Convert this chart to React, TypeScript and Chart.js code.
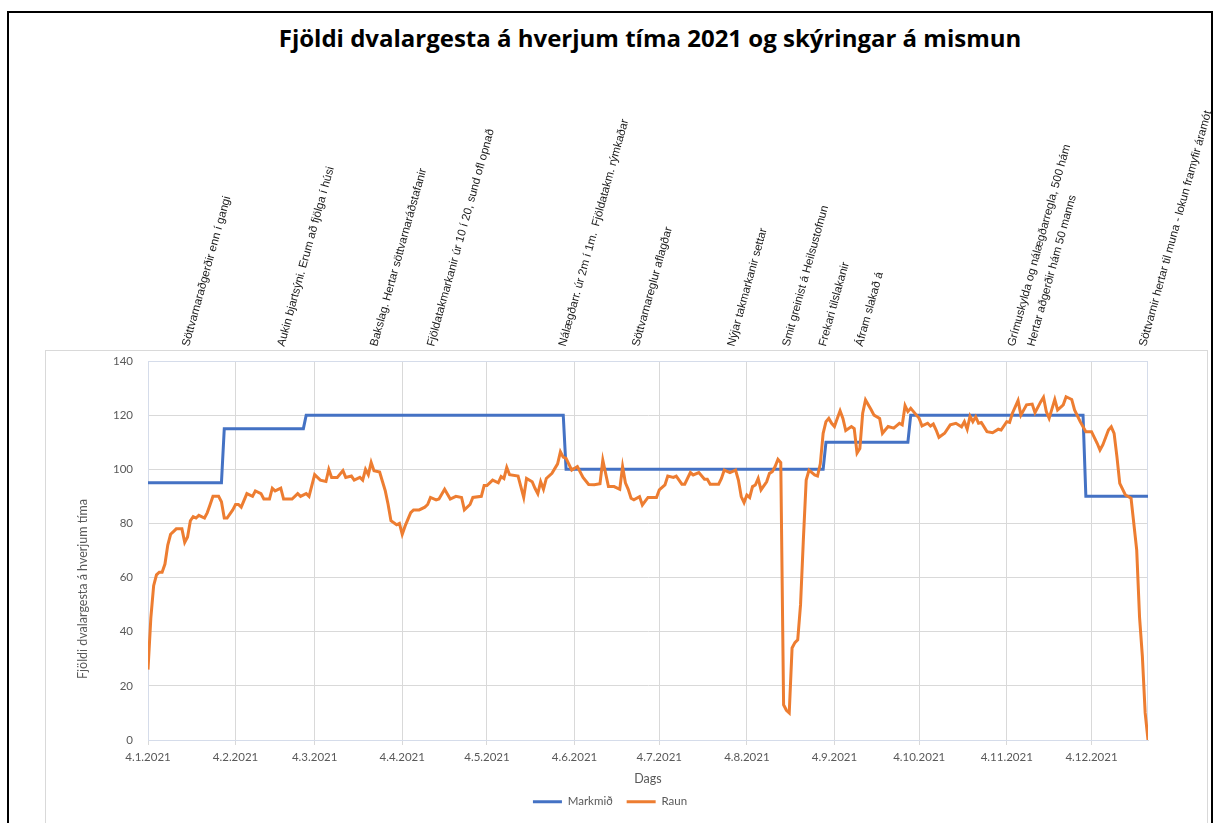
import React, { useEffect, useRef } from 'react';
import { Chart, registerables } from 'chart.js';

Chart.register(...registerables);

// ---- Data ----
const chartTitle = 'Fjöldi dvalargesta á hverjum tíma 2021 og skýringar á mismun';
const yAxisTitle = 'Fjöldi dvalargesta á hverjum tíma';
const xAxisTitle = 'Dags';
const seriesNames = ['Markmið', 'Raun'];

// x axis: day index counted from 4.1.2021
const monthTickDays = [0, 31, 59, 90, 120, 151, 181, 212, 243, 273, 304, 334];
const monthTickLabels = [
  '4.1.2021', '4.2.2021', '4.3.2021', '4.4.2021', '4.5.2021', '4.6.2021',
  '4.7.2021', '4.8.2021', '4.9.2021', '4.10.2021', '4.11.2021', '4.12.2021',
];
const lastDay = 354;

// Markmið (target)
const targetDays = [0, 26, 27, 55, 56, 147, 148, 239, 240, 269, 270, 331, 332, 354];
const targetValues = [95, 95, 115, 115, 120, 120, 100, 100, 110, 110, 120, 120, 90, 90];

// Raun (actual)
const actualDays = [
  0, 1, 2, 3, 4, 5, 6, 7, 8, 9, 10, 12, 13, 14, 15, 16, 17, 18, 20, 21,
  22, 23, 24, 25, 26, 27, 28, 30, 31, 32, 33, 35, 37, 38, 40, 41, 43, 44, 45, 47,
  48, 50, 51, 53, 54, 56, 57, 59, 61, 63, 64, 65, 67, 69, 70, 72, 73, 75, 76, 77,
  78, 79, 80, 82, 83, 84, 85, 86, 88, 89, 90, 91, 93, 94, 96, 98, 99, 100, 102, 103,
  105, 107, 109, 111, 112, 114, 115, 118, 119, 120, 122, 124, 125, 126, 127, 128, 131, 133, 134, 136,
  137, 138, 139, 140, 141, 143, 145, 146, 147, 148, 150, 152, 154, 156, 158, 160, 161, 163, 165, 167,
  168, 169, 170, 171, 172, 174, 175, 177, 180, 181, 183, 184, 186, 187, 189, 190, 192, 193, 195, 197,
  198, 199, 202, 203, 204, 206, 208, 209, 210, 211, 212, 213, 214, 215, 216, 217, 219, 220, 221, 222,
  223, 224, 225, 226, 227, 228, 229, 230, 231, 232, 233, 234, 236, 237, 238, 239, 240, 241, 242, 243,
  244, 245, 246, 247, 249, 250, 251, 252, 253, 254, 256, 257, 259, 260, 262, 264, 266, 267, 268, 269,
  270, 271, 273, 274, 276, 277, 278, 279, 280, 282, 284, 286, 288, 289, 290, 291, 292, 293, 294, 295,
  297, 299, 301, 302, 304, 305, 306, 308, 309, 311, 313, 314, 316, 317, 318, 319, 321, 322, 324, 325,
  327, 328, 330, 332, 334, 336, 337, 338, 340, 341, 342, 343, 344, 346, 348, 350, 351, 352, 353, 354,
];
const actualValues = [
  26, 45, 57, 61, 62, 62, 65, 72, 76, 77, 78, 78, 73, 75, 81, 82.5, 82, 83, 82, 84,
  87, 90, 90, 90, 88, 82, 82, 85, 87, 87, 86, 91, 90, 92, 91, 89, 89, 93, 92, 93,
  89, 89, 89, 91, 90, 91, 90, 98, 96, 95.5, 100, 97, 97, 99.5, 97, 97.5, 96, 97, 96, 100,
  98, 102.5, 99.5, 99, 95.5, 92, 87, 81, 79.5, 80, 76, 79, 84, 85, 85, 86, 87, 89.6, 88.7, 89,
  92.6, 89, 90, 89.6, 85, 87, 89.6, 90, 94, 94, 96, 95, 97.3, 96.6, 100.7, 98, 97.5, 89.6, 96.6, 95.4,
  93, 91, 95.4, 92.6, 96.6, 98.5, 102, 106.5, 104.5, 104, 99.7, 101, 97, 94.4, 94.3, 94.7, 103.4, 93.6, 93.6, 92.6,
  101, 95, 92.6, 89.3, 88.7, 89.9, 86.8, 89.6, 89.6, 92.4, 94.2, 97.5, 97, 97.5, 94.5, 94.5, 98.8, 97.9, 98.8, 96.3,
  96.3, 94.5, 94.5, 96.6, 99.7, 98.8, 99.7, 96, 89.9, 87.7, 90.5, 89.6, 93.6, 94.2, 96.6, 92.4, 95.4, 98.5, 99.1, 101,
  103.7, 102.5, 13, 11, 10, 34, 36, 37, 50, 74, 96, 99.7, 97.9, 97.5, 102, 113.3, 117.6, 118.8, 117, 115.8,
  118.8, 121.6, 118.8, 114.3, 115.8, 115, 106, 107.7, 120.7, 125.6, 122, 120, 118.8, 113.3, 115.8, 115.2, 117, 116.4, 123.5, 121.3,
  122.5, 121.3, 118.8, 116, 117, 116, 116.7, 114.5, 111.8, 113.3, 116.4, 117, 115.7, 117.6, 114.8, 119.6, 117.6, 119.4, 117, 117.3,
  113.9, 113.5, 114.8, 114.5, 117.6, 117.3, 120.7, 125.4, 120, 123.8, 124.1, 120.9, 124.9, 126.6, 121.3, 118.8, 125.8, 121.9, 123.8, 126.8,
  125.8, 121.9, 117.6, 113.9, 113.9, 109.6, 107.1, 109, 114.5, 115.7, 113.3, 104.7, 94.8, 90.5, 89.3, 70.2, 45.5, 31, 10, 0,
];

// Annotations above the chart
const noteTexts = [
  'Söttvarnaraðgerðir enn í gangi',
  'Aukin bjartsýni. Erum að fjölga í húsi',
  'Bakslag. Hertar söttvarnaráðstafanir',
  'Fjöldatakmarkanir úr 10 í 20, sund ofl opnað',
  'Nálægðarr. úr 2m í 1m.  Fjöldatakm. rýmkaðar',
  'Söttvarnareglur aflagðar',
  'Nýjar takmarkanir settar',
  'Smit greinist á Heilsustofnun',
  'Frekari tilslakanir',
  'Áfram slakað á',
  'Grímuskylda og nálægðarregla, 500 hám',
  'Hertar aðgerðir hám 50 manns',
  'Söttvarnir hertar til muna - lokun framyfir áramót',
];
const noteDays = [14.5, 48.2, 81.1, 101.2, 147.8, 173.8, 207.5, 227, 239.9, 252.9, 306.7, 313.7, 353.3];

const yTickValues = [0, 20, 40, 60, 80, 100, 120, 140];

const BLUE = '#4472C4';
const ORANGE = '#ED7D31';
const GRAY_TEXT = '#595959';
const FONT = 'Lato, "Open Sans", sans-serif';

const extrasPlugin = {
  id: 'extras',
  beforeDatasetsDraw(chart: any) {
    const { ctx, chartArea } = chart;
    ctx.save();
    ctx.strokeStyle = '#d5dcea';
    ctx.lineWidth = 1;
    ctx.strokeRect(chartArea.left + 0.5, chartArea.top + 0.5, chartArea.right - chartArea.left - 1, chartArea.bottom - chartArea.top);
    ctx.restore();
  },
  afterDraw(chart: any) {
    const { ctx, chartArea } = chart;
    const xs = chart.scales.x;
    ctx.save();
    // annotations
    ctx.font = '11.5px "Liberation Sans", Arial, sans-serif';
    ctx.fillStyle = '#1a1a1a';
    ctx.textAlign = 'left';
    ctx.textBaseline = 'alphabetic';
    noteTexts.forEach((t, i) => {
      const x = xs.getPixelForValue(noteDays[i]);
      ctx.save();
      ctx.translate(x, chartArea.top - 14);
      ctx.rotate((-74.5 * Math.PI) / 180);
      ctx.fillText(t, 0, 0);
      ctx.restore();
    });
    // y axis title
    ctx.font = '12.5px ' + FONT;
    ctx.fillStyle = GRAY_TEXT;
    ctx.textAlign = 'center';
    ctx.textBaseline = 'middle';
    ctx.translate(chartArea.left - 65, chartArea.top + 228);
    ctx.rotate(-Math.PI / 2);
    ctx.fillText(yAxisTitle, 0, 0);
    ctx.restore();
  },
};

export default function App() {
  const ref = useRef<HTMLCanvasElement>(null);

  useEffect(() => {
    if (!ref.current) return;
    const chart = new Chart(ref.current, {
      type: 'line',
      data: {
        datasets: [
          {
            label: seriesNames[0],
            data: targetDays.map((d, i) => ({ x: d, y: targetValues[i] })),
            borderColor: BLUE,
            backgroundColor: BLUE,
            borderWidth: 3,
            pointRadius: 0,
            tension: 0,
            order: 1,
          },
          {
            label: seriesNames[1],
            data: actualDays.map((d, i) => ({ x: d, y: actualValues[i] })),
            borderColor: ORANGE,
            backgroundColor: ORANGE,
            borderWidth: 3,
            pointRadius: 0,
            tension: 0,
            order: 0,
          },
        ],
      },
      options: {
        animation: false,
        responsive: false,
        layout: { padding: { left: 72, top: 361, right: 70, bottom: 5.5 } },
        plugins: {
          title: { display: false },
          tooltip: { enabled: false },
          legend: {
            position: 'bottom',
            labels: {
              usePointStyle: true,
              pointStyle: 'line',
              pointStyleWidth: 29,
              padding: 14,
              color: GRAY_TEXT,
              font: { family: FONT, size: 11.5 },
              sort: (a: any, b: any) => a.datasetIndex - b.datasetIndex,
            },
          },
        },
        scales: {
          x: {
            type: 'linear',
            min: 0,
            max: lastDay,
            afterBuildTicks: (s: any) => {
              s.ticks = monthTickDays.map((v) => ({ value: v }));
            },
            afterFit: (s: any) => {
              s.height = 42;
            },
            ticks: {
              autoSkip: false,
              maxRotation: 0,
              padding: 5,
              color: GRAY_TEXT,
              font: { family: FONT, size: 11.5 },
              callback: (_v: any, i: number) => monthTickLabels[i],
            },
            grid: { color: '#d9d9d9', drawTicks: true, tickLength: 5 },
            border: { color: '#d9d9d9' },
            title: {
              display: true,
              text: xAxisTitle,
              color: GRAY_TEXT,
              font: { family: FONT, size: 12.5 },
              padding: { top: 0, bottom: -4.5 },
            },
          },
          y: {
            min: 0,
            max: 140,
            afterBuildTicks: (s: any) => {
              s.ticks = yTickValues.map((v) => ({ value: v }));
            },
            afterFit: (s: any) => {
              s.width = 76;
            },
            ticks: {
              padding: 15,
              color: GRAY_TEXT,
              font: { family: FONT, size: 11.5 },
            },
            grid: { color: '#d9d9d9', drawTicks: false },
            border: { color: '#d5dcea' },
            title: { display: false },
          },
        },
      },
      plugins: [extrasPlugin],
    } as any);
    return () => chart.destroy();
  }, []);

  return (
    <div style={{ position: 'absolute', left: 0, top: 0, width: 1218, height: 823, overflow: 'hidden', background: '#fff' }}>
      <div style={{ position: 'absolute', left: 7, top: 11, width: 1206, height: 900, border: '2px solid #000', boxSizing: 'border-box' }} />
      <div style={{ position: 'absolute', left: 45, top: 350, width: 1163, height: 600, border: '1px solid #d9d9d9', boxSizing: 'border-box' }} />
      <div
        style={{
          position: 'absolute', left: 150, top: 23, width: 1000, textAlign: 'center',
          fontFamily: '"Open Sans", Lato, sans-serif', fontWeight: 700, fontSize: 24, lineHeight: '30px', color: '#000',
        }}
      >
        {chartTitle}
      </div>
      <canvas ref={ref} width={1218} height={823} style={{ position: 'absolute', left: 0, top: 0 }} />
    </div>
  );
}
